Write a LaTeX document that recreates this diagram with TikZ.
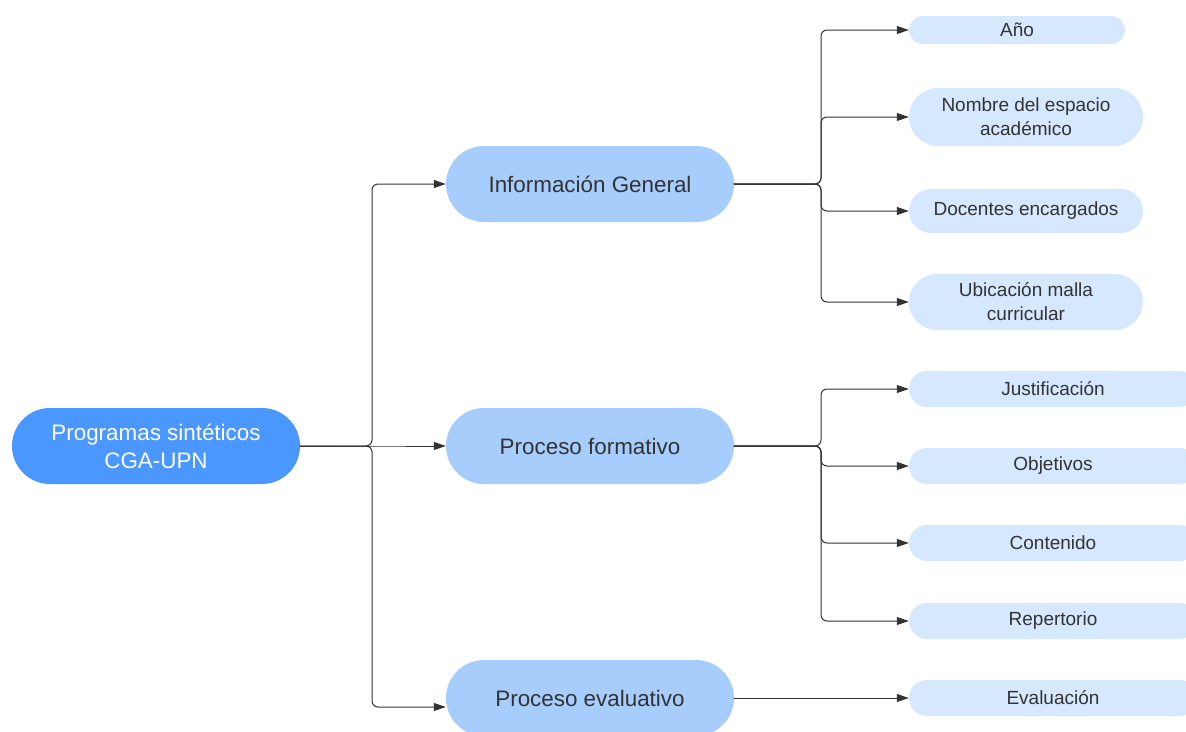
\documentclass[tikz,border=0pt]{standalone}
\usepackage{fontspec}
\setmainfont{Liberation Sans}
\usetikzlibrary{arrows.meta,shapes.misc}
\definecolor{rootblue}{RGB}{74,151,255}
\definecolor{mainblue}{RGB}{166,205,252}
\definecolor{leafblue}{RGB}{214,232,253}
\definecolor{inkgray}{RGB}{51,51,51}

\begin{document}
\begin{tikzpicture}[x=1pt,y=-1pt,>={Triangle[length=12pt,width=8pt]},
  line cap=round,line join=round,
  pill/.style={rounded rectangle,inner sep=0pt,align=center,text=inkgray},
  rootpill/.style={pill,fill=rootblue,text=white,minimum width=288pt,
    minimum height=76pt,font=\fontsize{22.4}{28}\selectfont},
  mainpill/.style={pill,fill=mainblue,minimum width=288pt,
    minimum height=76pt,font=\fontsize{22.4}{28}\selectfont},
  leafpill/.style={pill,fill=leafblue,font=\fontsize{19}{24}\selectfont},
  conn/.style={->,inkgray,line width=1pt,rounded corners=6pt}]
 \useasboundingbox (0,0) rectangle (1186,731);
 \clip (0,0) rectangle (1186,731);

 \node[rootpill] (programas) at (156,446)
  {Programas sintéticos\\CGA-UPN};
 \node[mainpill] (info) at (590,184) {Información General};
 \node[mainpill] (formativo) at (590,446) {Proceso formativo};
 \node[mainpill] (evaluativo) at (590,698) {Proceso evaluativo};

 \node[leafpill,minimum width=216pt,minimum height=28pt] (ano)
  at (1017,30) {Año};
 \node[leafpill,minimum width=234pt,minimum height=58pt] (nombre)
  at (1026,117) {Nombre del espacio\\académico};
 \node[leafpill,minimum width=234pt,minimum height=44pt] (docentes)
  at (1026,211) {Docentes encargados};
 \node[leafpill,minimum width=234pt,minimum height=56pt] (ubicacion)
  at (1026,302) {Ubicación malla\\curricular};
 \node[leafpill,minimum width=288pt,minimum height=36pt] (justificacion)
  at (1053,389) {Justificación};
 \node[leafpill,minimum width=288pt,minimum height=36pt] (objetivos)
  at (1053,466) {Objetivos};
 \node[leafpill,minimum width=288pt,minimum height=36pt] (contenido)
  at (1053,543) {Contenido};
 \node[leafpill,minimum width=288pt,minimum height=36pt] (repertorio)
  at (1053,621) {Repertorio};
 \node[leafpill,minimum width=288pt,minimum height=36pt] (evaluacion)
  at (1053,698) {Evaluación};

 \coordinate (rootfork) at (372,446);
 \coordinate (infofork) at (821,184);
 \coordinate (formfork) at (821,446);

 \draw[conn] (programas.east) -- (rootfork) |- (info.west);
 \draw[conn] (programas.east) -- (rootfork) -- (formativo.west);
 \draw[conn] (programas.east) -- (rootfork) |- ([yshift=-9pt]evaluativo.west);
 \foreach \leaf in {ano,nombre,docentes,ubicacion}{
  \draw[conn] (info.east) -- (infofork) |- (\leaf.west);
 }
 \foreach \leaf in {justificacion,objetivos,contenido,repertorio}{
  \draw[conn] (formativo.east) -- (formfork) |- (\leaf.west);
 }
 \draw[conn] (evaluativo.east) -- (evaluacion.west);
\end{tikzpicture}
\end{document}
